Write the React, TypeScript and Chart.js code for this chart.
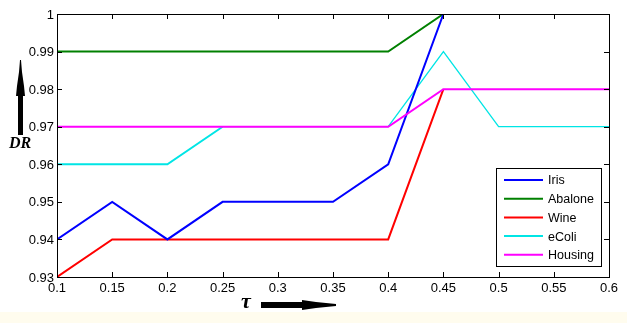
import React, { useEffect, useRef } from "react";
import { Chart, registerables } from "chart.js";

Chart.register(...registerables);

const xValues = [0.1, 0.15, 0.2, 0.25, 0.3, 0.35, 0.4, 0.45, 0.5, 0.55, 0.6];
const xTicks = [0.1, 0.15, 0.2, 0.25, 0.3, 0.35, 0.4, 0.45, 0.5, 0.55, 0.6];
const yTicks = [0.93, 0.94, 0.95, 0.96, 0.97, 0.98, 0.99, 1];

const seriesNames = ["Iris", "Abalone", "Wine", "eColi", "Housing"];
const seriesColors = ["#0000ff", "#008000", "#ff0000", "#00e5e5", "#ff00ff"];

const iris = [0.94, 0.95, 0.94, 0.95, 0.95, 0.95, 0.96, 1.0, null, null, null];
const abalone = [0.99, 0.99, 0.99, 0.99, 0.99, 0.99, 0.99, 1.0, null, null, null];
const wine = [0.93, 0.94, 0.94, 0.94, 0.94, 0.94, 0.94, 0.98, null, null, null];
const ecoli = [0.96, 0.96, 0.96, 0.97, 0.97, 0.97, 0.97, 0.99, 0.97, 0.97, 0.97];
const housing = [0.97, 0.97, 0.97, 0.97, 0.97, 0.97, 0.97, 0.98, 0.98, 0.98, 0.98];

const allSeries = [iris, abalone, wine, ecoli, housing];

const fmt = (v: number) => String(parseFloat(v.toFixed(2)));

const decorPlugin = {
  id: "decor",
  beforeDraw(chart: any) {
    const ctx = chart.ctx;
    ctx.save();
    ctx.fillStyle = "#ffffff";
    ctx.fillRect(0, 0, chart.width, chart.height);
    ctx.fillStyle = "#fffcee";
    ctx.fillRect(0, 312, chart.width, chart.height - 312);
    ctx.restore();
  },
  afterDraw(chart: any) {
    const ctx = chart.ctx;
    const { left, right, top, bottom } = chart.chartArea;
    const xs = chart.scales.x;
    const ys = chart.scales.y;
    ctx.save();
    // frame
    ctx.strokeStyle = "#000";
    ctx.lineWidth = 1;
    ctx.strokeRect(Math.round(left) + 0.5, Math.round(top) + 0.5, Math.round(right - left), Math.round(bottom - top));
    // ticks
    ctx.beginPath();
    const tl = 5;
    xTicks.forEach((v) => {
      const px = Math.round(xs.getPixelForValue(v)) + 0.5;
      ctx.moveTo(px, bottom);
      ctx.lineTo(px, bottom - tl);
      ctx.moveTo(px, top);
      ctx.lineTo(px, top + tl);
    });
    yTicks.forEach((v) => {
      const py = Math.round(ys.getPixelForValue(v)) + 0.5;
      ctx.moveTo(left, py);
      ctx.lineTo(left + tl, py);
      ctx.moveTo(right, py);
      ctx.lineTo(right - tl, py);
    });
    ctx.stroke();
    // tick labels
    ctx.fillStyle = "#000";
    ctx.font = "13px 'Liberation Sans', Arial, sans-serif";
    ctx.textAlign = "center";
    ctx.textBaseline = "middle";
    xTicks.forEach((v) => {
      ctx.fillText(fmt(v), xs.getPixelForValue(v), bottom + 11);
    });
    ctx.textAlign = "right";
    yTicks.forEach((v) => {
      ctx.fillText(fmt(v), left - 3, ys.getPixelForValue(v) + 1);
    });
    // legend
    const lx = 496, ly = 168, lw = 105, lh = 98;
    ctx.fillStyle = "#fff";
    ctx.fillRect(lx, ly, lw, lh);
    ctx.strokeStyle = "#000";
    ctx.lineWidth = 1;
    ctx.strokeRect(lx + 0.5, ly + 0.5, lw, lh);
    ctx.font = "12.5px 'Liberation Sans', Arial, sans-serif";
    ctx.textAlign = "left";
    ctx.textBaseline = "middle";
    seriesNames.forEach((name, i) => {
      const y = ly + 12 + i * 18.7;
      ctx.strokeStyle = seriesColors[i];
      ctx.lineWidth = 2;
      ctx.beginPath();
      ctx.moveTo(lx + 8, y);
      ctx.lineTo(lx + 47, y);
      ctx.stroke();
      ctx.fillStyle = "#000";
      ctx.fillText(name, lx + 52, y + 1);
    });
    // DR label
    ctx.fillStyle = "#000";
    ctx.font = "bold italic 16px 'Liberation Serif', 'Times New Roman', serif";
    ctx.textAlign = "left";
    ctx.textBaseline = "alphabetic";
    ctx.fillText("DR", 9, 148);
    // up arrow
    ctx.beginPath();
    ctx.moveTo(18, 135);
    ctx.lineTo(23, 135);
    ctx.lineTo(23, 96);
    ctx.lineTo(25, 96);
    ctx.lineTo(24, 86);
    ctx.lineTo(22, 72);
    ctx.lineTo(21, 60);
    ctx.lineTo(20, 60);
    ctx.lineTo(19, 72);
    ctx.lineTo(17, 86);
    ctx.lineTo(16, 96);
    ctx.lineTo(18, 96);
    ctx.closePath();
    ctx.fill();
    // tau
    ctx.font = "bold italic 22px 'Liberation Serif', 'Times New Roman', serif";
    ctx.fillText("τ", 241, 308);
    // right arrow
    ctx.beginPath();
    ctx.moveTo(261, 302);
    ctx.lineTo(302, 302);
    ctx.lineTo(302, 300);
    ctx.lineTo(316, 302);
    ctx.lineTo(336, 304);
    ctx.lineTo(336, 306);
    ctx.lineTo(316, 308);
    ctx.lineTo(302, 310);
    ctx.lineTo(302, 308);
    ctx.lineTo(261, 308);
    ctx.closePath();
    ctx.fill();
    ctx.restore();
  },
};

export default function App() {
  const ref = useRef<HTMLCanvasElement | null>(null);
  useEffect(() => {
    document.body.style.margin = "0";
    if (!ref.current) return;
    const widths = [2, 2, 2, 1.5, 2];
    const orders = [1, 3, 2, 4, 0];
    const chart = new Chart(ref.current, {
      type: "line",
      data: {
        datasets: allSeries.map((s, i) => ({
          label: seriesNames[i],
          data: xValues.map((x, j) => ({ x, y: s[j] as any })),
          borderColor: seriesColors[i],
          backgroundColor: seriesColors[i],
          borderWidth: widths[i],
          pointRadius: 0,
          tension: 0,
          spanGaps: false,
          order: orders[i],
          segment:
            i === 3
              ? { borderWidth: (c: any) => (c.p0DataIndex < 3 ? 2 : 1.3) }
              : undefined,
        })),
      },
      options: {
        responsive: false,
        animation: false,
        events: [],
        layout: { padding: { left: 57, right: 18, top: 14, bottom: 46 } },
        plugins: { legend: { display: false }, tooltip: { enabled: false } },
        scales: {
          x: { type: "linear", min: 0.1, max: 0.6, display: false },
          y: { type: "linear", min: 0.93, max: 1, display: false },
        },
      },
      plugins: [decorPlugin],
    });
    return () => chart.destroy();
  }, []);
  return <canvas ref={ref} width={627} height={323} style={{ display: "block" }} />;
}
